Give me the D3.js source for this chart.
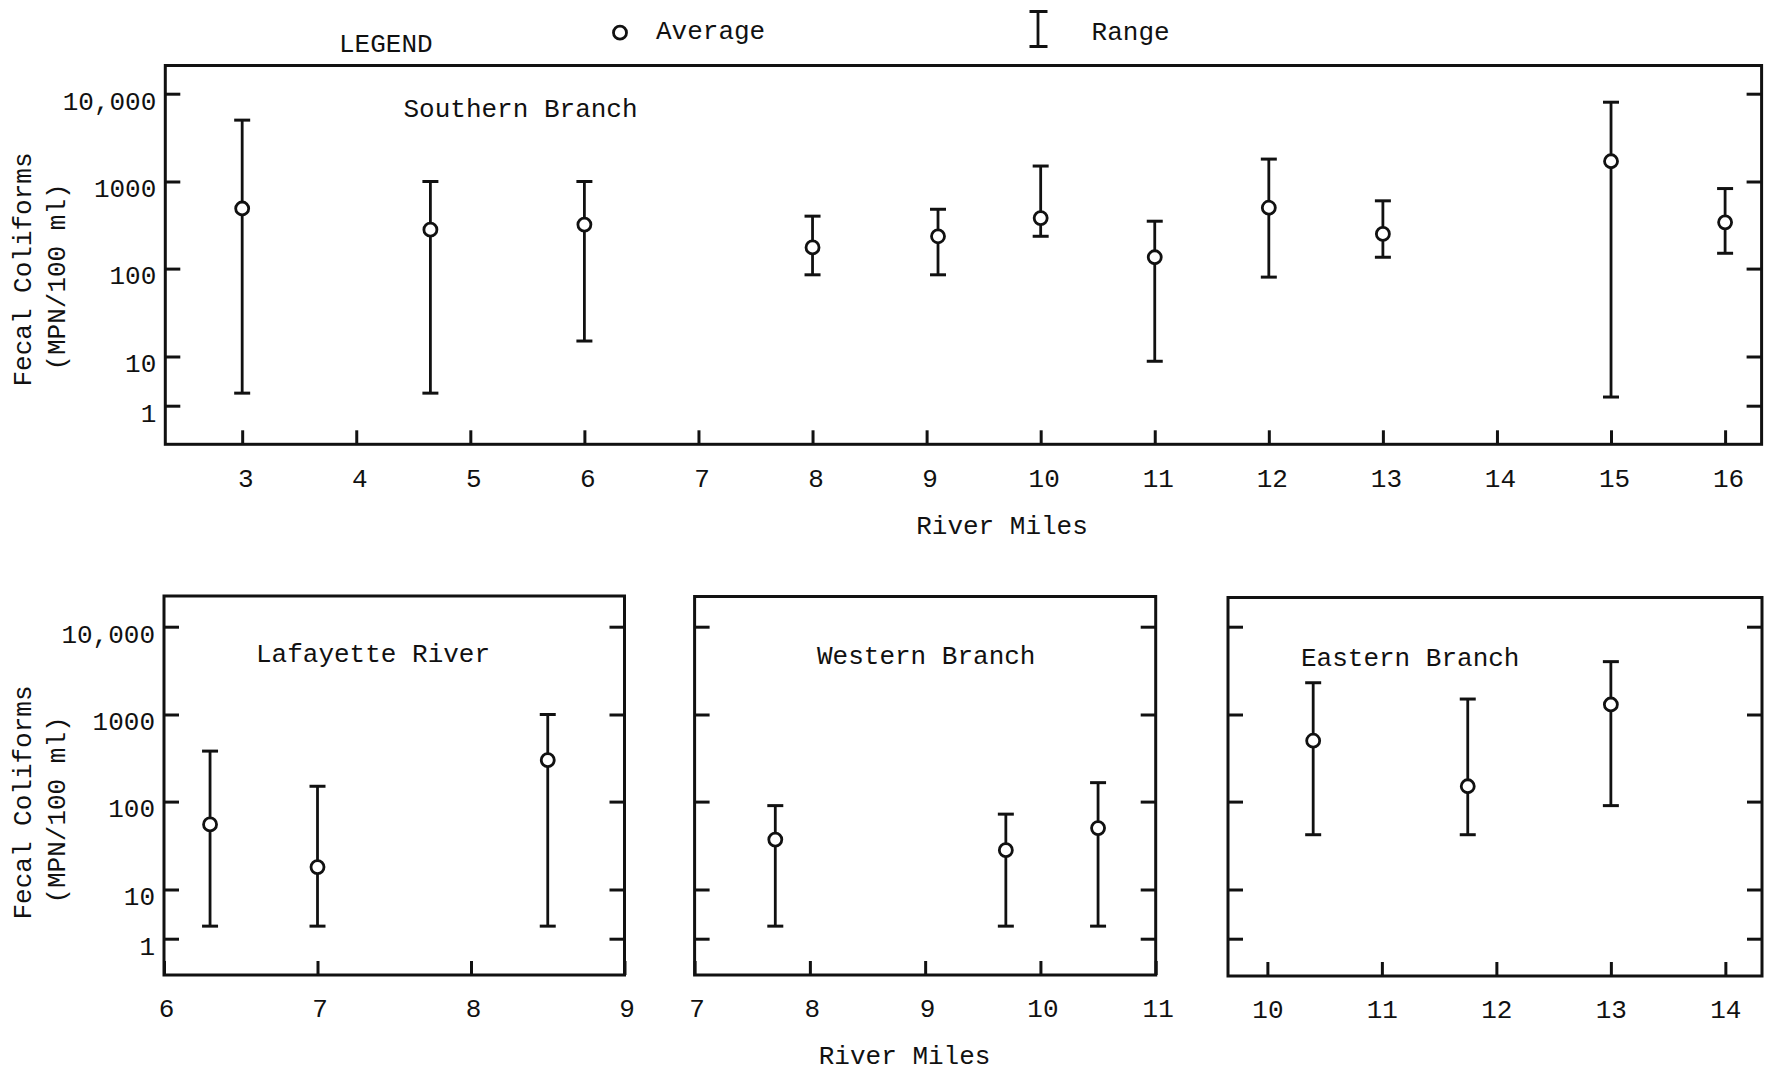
<!DOCTYPE html>
<html>
<head>
<meta charset="utf-8">
<script src="https://cdn.jsdelivr.net/npm/d3@7"></script>
<style>
  html, body { margin: 0; padding: 0; background: #fff; }
  svg { display: block; }
  text { font-family: "Liberation Mono", "DejaVu Sans Mono", monospace; fill: #111; }
</style>
</head>
<body>
<script>
// ---------- DATA ----------
const yTickValues = [1, 10, 100, 1000, 10000];
const yTickLabels = ["1", "10", "100", "1000", "10,000"];

// Southern Branch
const southernMiles = [3, 4.65, 6, 8, 9.1, 10, 11, 12, 13, 15, 16];
const southernAvg   = [490, 280, 320, 175, 235, 380, 135, 500, 250, 1700, 340];
const southernMin   = [1.8, 1.8, 15, 85, 85, 235, 8, 80, 135, 1.5, 150];
const southernMax   = [5000, 1000, 1000, 400, 480, 1500, 350, 1800, 600, 8000, 830];
const southernTicks = [3, 4, 5, 6, 7, 8, 9, 10, 11, 12, 13, 14, 15, 16];

// Lafayette River
const lafayetteMiles = [6.3, 7, 8.5];
const lafayetteAvg   = [55, 18, 300];
const lafayetteMin   = [1.8, 1.8, 1.8];
const lafayetteMax   = [380, 150, 1000];
const lafayetteTicks = [6, 7, 8, 9];

// Western Branch
const westernMiles = [7.7, 9.7, 10.5];
const westernAvg   = [37, 28, 50];
const westernMin   = [1.8, 1.8, 1.8];
const westernMax   = [90, 72, 165];
const westernTicks = [7, 8, 9, 10, 11];

// Eastern Branch
const easternMiles = [10.4, 11.75, 13];
const easternAvg   = [500, 150, 1300];
const easternMin   = [42, 42, 90];
const easternMax   = [2300, 1500, 4000];
const easternTicks = [10, 11, 12, 13, 14];

// ---------- LAYOUT ----------
const W = 1765, H = 1071;
const svg = d3.select("body").append("svg").attr("width", W).attr("height", H);

const topY = [405.7, 356.5, 268.6, 181.5, 93.7];   // pixel rows for 1,10,100,1000,10000
const botShift = 533;

function zip(m, a, lo, hi) {
  return m.map((d, i) => ({ mile: d, avg: a[i], min: lo[i], max: hi[i] }));
}

function panel(opt) {
  const x = d3.scaleLinear().domain(opt.xDomain).range([opt.x0, opt.x1]);
  const y = d3.scaleLog().domain(yTickValues).range(topY.map(v => v + opt.shift));
  const yTop = opt.yTop, yBot = opt.yBot;
  const g = svg.append("g");

  // frame
  g.append("rect")
    .attr("x", opt.x0).attr("y", yTop)
    .attr("width", opt.x1 - opt.x0).attr("height", yBot - yTop)
    .attr("fill", "none").attr("stroke", "#111").attr("stroke-width", 3);

  // bottom axis (ticks point up)
  const xa = g.append("g").attr("transform", `translate(0,${yBot})`)
    .call(d3.axisBottom(x).tickValues(opt.xTicks).tickSizeInner(-14).tickSizeOuter(0)
      .tickPadding(24).tickFormat(d3.format("d")));
  xa.select(".domain").remove();
  xa.selectAll(".tick line").attr("stroke", "#111").attr("stroke-width", 3);
  xa.selectAll(".tick text").attr("font-size", 26).attr("dx", opt.labelDx || 0)
    .attr("font-family", null);

  // left axis (ticks point right)
  const ya = g.append("g").attr("transform", `translate(${opt.x0},0)`)
    .call(d3.axisLeft(y).tickValues(yTickValues).tickSizeInner(-15).tickSizeOuter(0)
      .tickPadding(9).tickFormat((d, i) => opt.yLabels ? yTickLabels[i] : ""));
  ya.select(".domain").remove();
  ya.selectAll(".tick line").attr("stroke", "#111").attr("stroke-width", 3);
  ya.selectAll(".tick text").attr("font-size", 26).attr("y", 7).attr("font-family", null);

  // right axis (ticks point left)
  const yr = g.append("g").attr("transform", `translate(${opt.x1},0)`)
    .call(d3.axisRight(y).tickValues(yTickValues).tickSizeInner(-15).tickSizeOuter(0)
      .tickFormat(() => ""));
  yr.select(".domain").remove();
  yr.selectAll(".tick line").attr("stroke", "#111").attr("stroke-width", 3);

  // range bars
  const pts = zip(opt.miles, opt.avg, opt.min, opt.max);
  const bars = g.selectAll(".bar").data(pts).enter().append("g").attr("class", "bar");
  bars.append("line")
    .attr("x1", d => x(d.mile)).attr("x2", d => x(d.mile))
    .attr("y1", d => y(d.max)).attr("y2", d => y(d.min))
    .attr("stroke", "#111").attr("stroke-width", 2.8);
  bars.append("line")
    .attr("x1", d => x(d.mile) - 8).attr("x2", d => x(d.mile) + 8)
    .attr("y1", d => y(d.max)).attr("y2", d => y(d.max))
    .attr("stroke", "#111").attr("stroke-width", 3);
  bars.append("line")
    .attr("x1", d => x(d.mile) - 8).attr("x2", d => x(d.mile) + 8)
    .attr("y1", d => y(d.min)).attr("y2", d => y(d.min))
    .attr("stroke", "#111").attr("stroke-width", 3);
  bars.append("circle")
    .attr("cx", d => x(d.mile)).attr("cy", d => y(d.avg)).attr("r", 6.5)
    .attr("fill", "#fff").attr("stroke", "#111").attr("stroke-width", 2.8);

  // title
  g.append("text").attr("x", opt.titleX).attr("y", opt.titleY)
    .attr("dominant-baseline", "central").attr("font-size", 26).text(opt.title);

  // y axis label
  if (opt.yLabels) {
    g.append("text")
      .attr("transform", `translate(24,${opt.shift + 269.5}) rotate(-90)`)
      .attr("text-anchor", "middle").attr("dominant-baseline", "central")
      .attr("font-size", 26).text("Fecal Coliforms");
    g.append("text")
      .attr("transform", `translate(57.5,${opt.shift + 277}) rotate(-90)`)
      .attr("text-anchor", "middle").attr("dominant-baseline", "central")
      .attr("font-size", 26).text("(MPN/100 ml)");
  }
}

// Southern Branch (top)
panel({
  xDomain: [2.326, 16.32], x0: 165.3, x1: 1761.6, yTop: 65.5, yBot: 444.3, shift: 0,
  xTicks: southernTicks, labelDx: 3, yLabels: true,
  miles: southernMiles, avg: southernAvg, min: southernMin, max: southernMax,
  title: "Southern Branch", titleX: 403.5, titleY: 109.5
});
// Lafayette River
panel({
  xDomain: [6, 9], x0: 164, x1: 624.5, yTop: 596, yBot: 975, shift: botShift,
  xTicks: lafayetteTicks, labelDx: 2, yLabels: true,
  miles: lafayetteMiles, avg: lafayetteAvg, min: lafayetteMin, max: lafayetteMax,
  title: "Lafayette River", titleX: 256, titleY: 655
});
// Western Branch
panel({
  xDomain: [7, 11], x0: 694.6, x1: 1155.7, yTop: 596.5, yBot: 975, shift: botShift,
  xTicks: westernTicks, labelDx: 2, yLabels: false,
  miles: westernMiles, avg: westernAvg, min: westernMin, max: westernMax,
  title: "Western Branch", titleX: 817, titleY: 656.7
});
// Eastern Branch
panel({
  xDomain: [9.656, 14.32], x0: 1228, x1: 1762, yTop: 597.5, yBot: 976, shift: botShift,
  xTicks: easternTicks, labelDx: 0, yLabels: false,
  miles: easternMiles, avg: easternAvg, min: easternMin, max: easternMax,
  title: "Eastern Branch", titleX: 1301, titleY: 659
});

// axis titles
svg.append("text").attr("x", 1002).attr("y", 527).attr("text-anchor", "middle")
  .attr("dominant-baseline", "central").attr("font-size", 26).text("River Miles");
svg.append("text").attr("x", 904.6).attr("y", 1056.7).attr("text-anchor", "middle")
  .attr("dominant-baseline", "central").attr("font-size", 26).text("River Miles");

// legend
svg.append("text").attr("x", 339).attr("y", 44.8).attr("dominant-baseline", "central")
  .attr("font-size", 26).text("LEGEND");
svg.append("circle").attr("cx", 620).attr("cy", 32.7).attr("r", 6.5)
  .attr("fill", "#fff").attr("stroke", "#111").attr("stroke-width", 2.8);
svg.append("text").attr("x", 656).attr("y", 31.7).attr("dominant-baseline", "central")
  .attr("font-size", 26).text("Average");
const lg = svg.append("g");
lg.append("line").attr("x1", 1038).attr("x2", 1038).attr("y1", 11.5).attr("y2", 46.5)
  .attr("stroke", "#111").attr("stroke-width", 2.8);
lg.append("line").attr("x1", 1029.5).attr("x2", 1047.5).attr("y1", 11.5).attr("y2", 11.5)
  .attr("stroke", "#111").attr("stroke-width", 3);
lg.append("line").attr("x1", 1029.5).attr("x2", 1047.5).attr("y1", 46.5).attr("y2", 46.5)
  .attr("stroke", "#111").attr("stroke-width", 3);
svg.append("text").attr("x", 1091.6).attr("y", 32.7).attr("dominant-baseline", "central")
  .attr("font-size", 26).text("Range");
</script>
</body>
</html>
